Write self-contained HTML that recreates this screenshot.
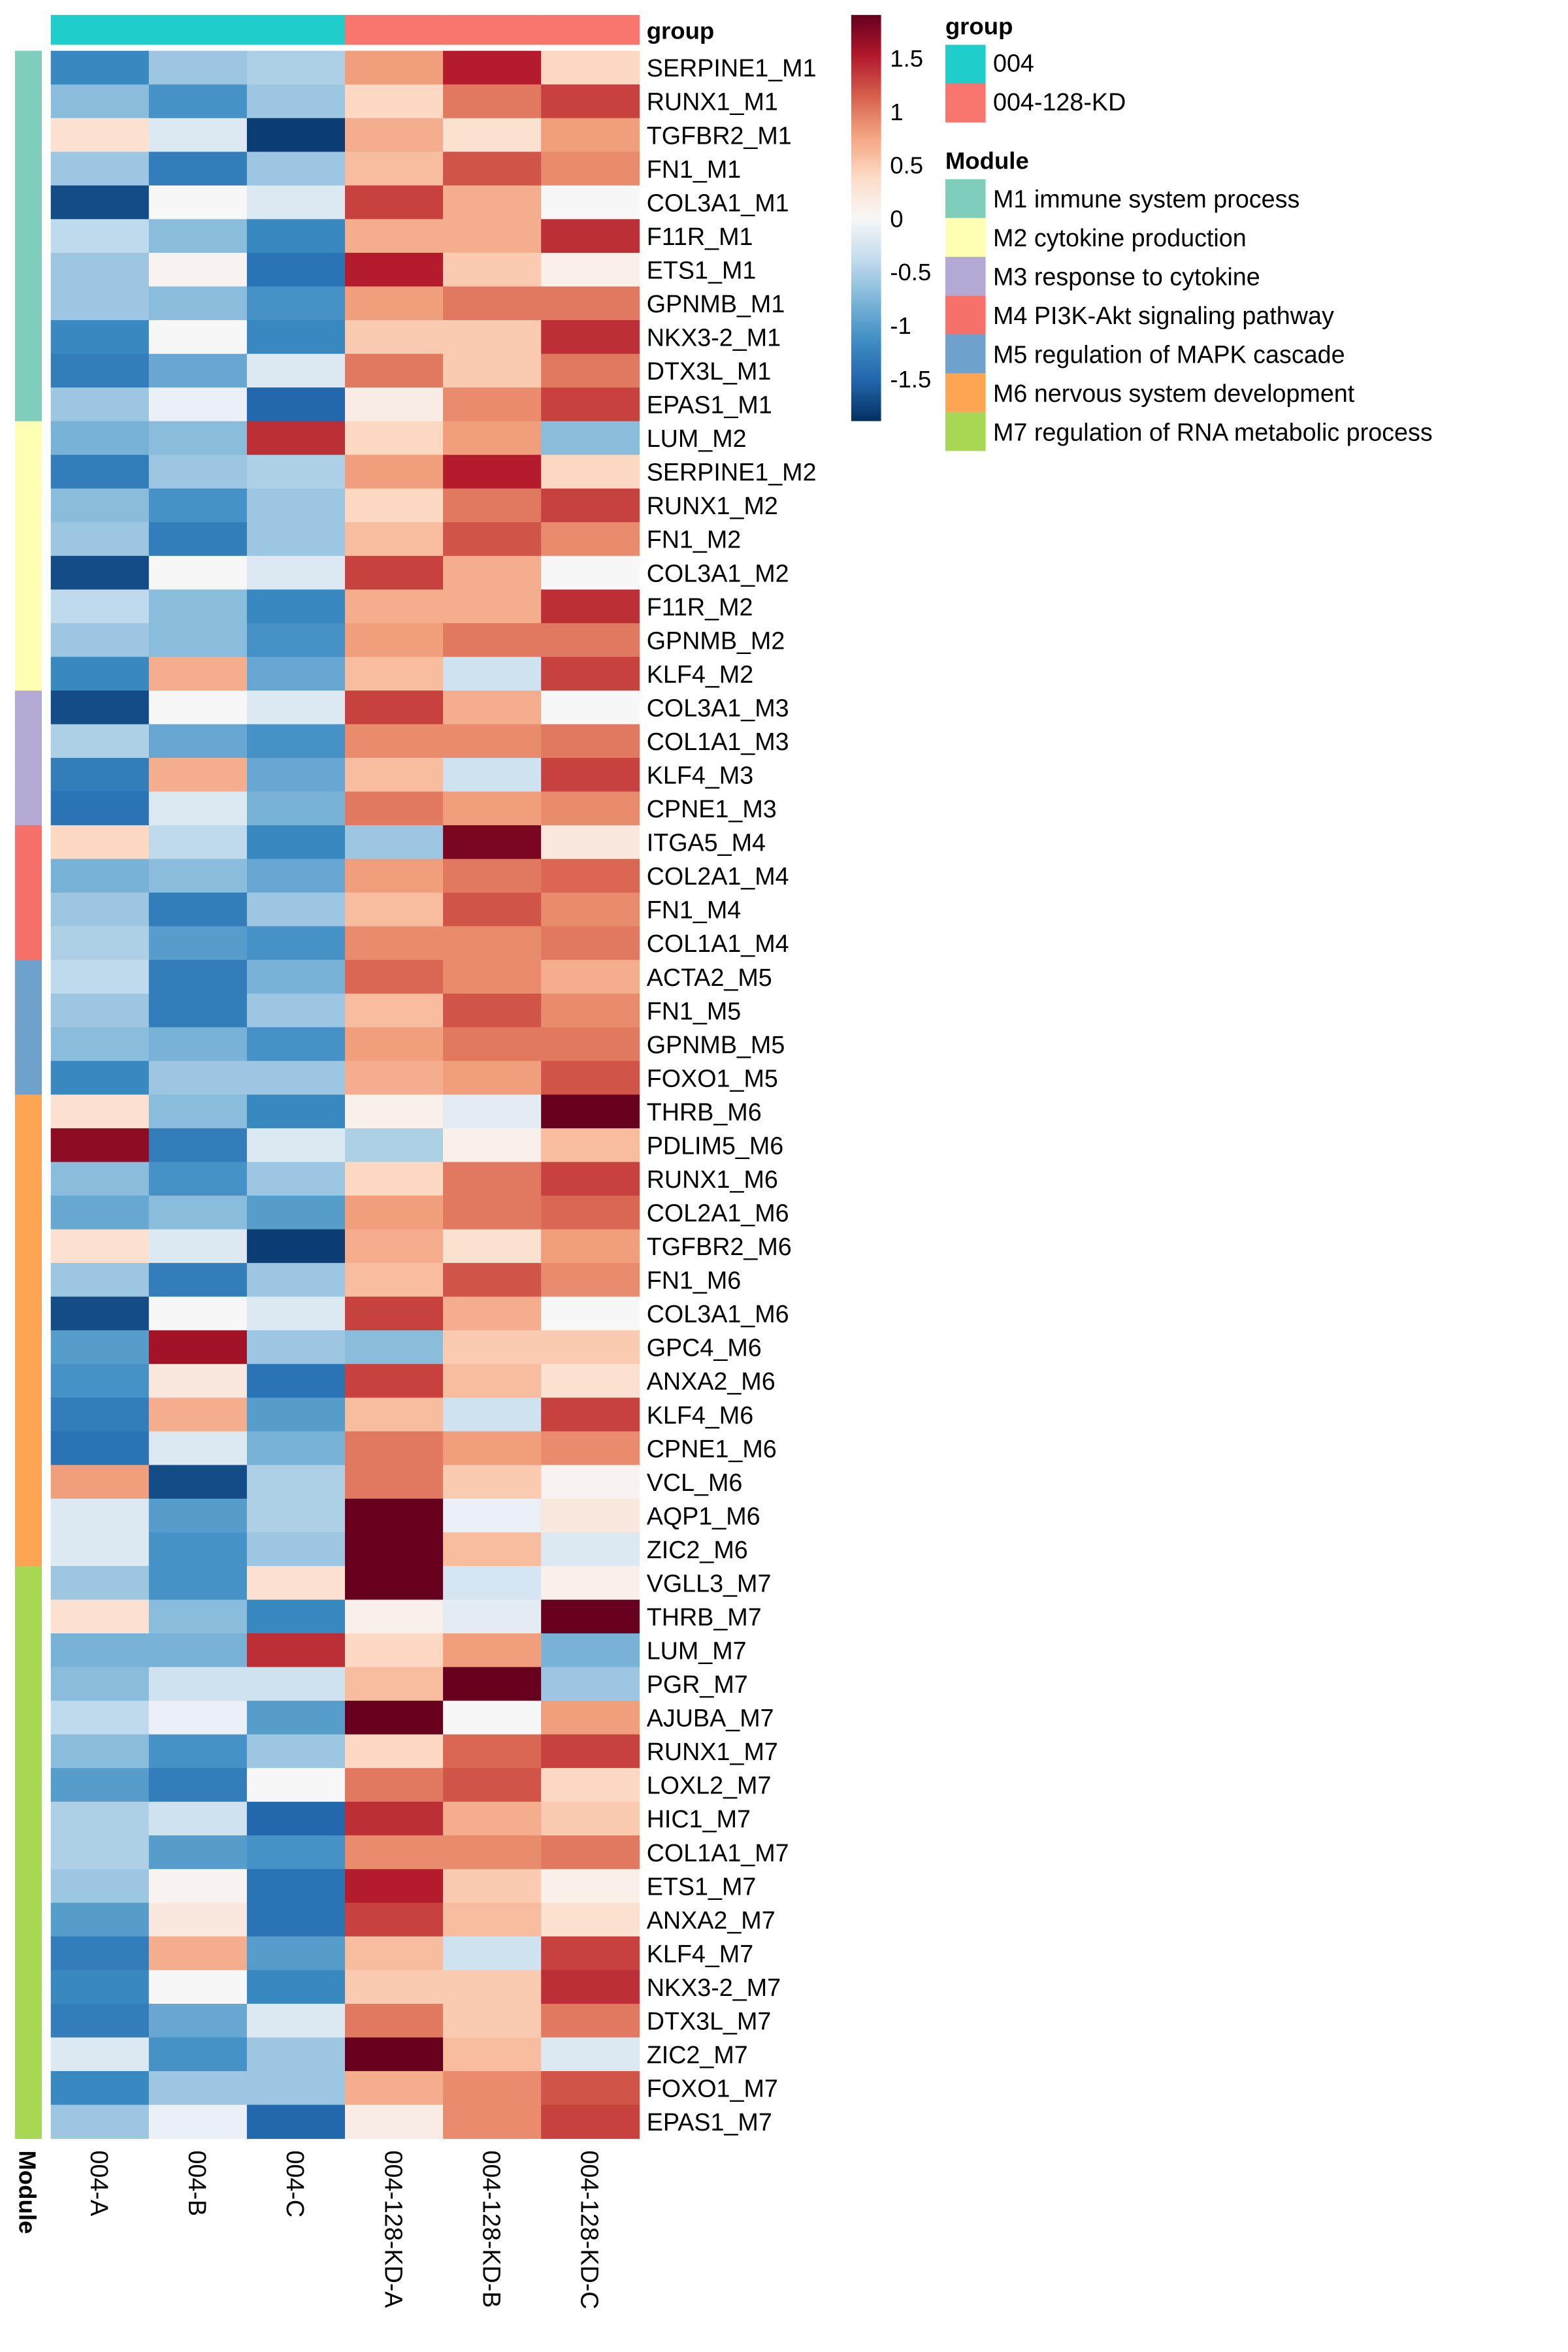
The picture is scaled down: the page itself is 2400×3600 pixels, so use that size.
<!DOCTYPE html>
<html><head><meta charset="utf-8"><style>
html,body{margin:0;padding:0;background:#fff;}
svg{display:block;font-family:"Liberation Sans",sans-serif;}
</style></head><body>
<svg id="chart" width="2400" height="3600" viewBox="0 0 1050 1575" xmlns="http://www.w3.org/2000/svg"></svg>
<script>
const rowLabels = ["SERPINE1_M1","RUNX1_M1","TGFBR2_M1","FN1_M1","COL3A1_M1","F11R_M1","ETS1_M1","GPNMB_M1","NKX3-2_M1","DTX3L_M1","EPAS1_M1","LUM_M2","SERPINE1_M2","RUNX1_M2","FN1_M2","COL3A1_M2","F11R_M2","GPNMB_M2","KLF4_M2","COL3A1_M3","COL1A1_M3","KLF4_M3","CPNE1_M3","ITGA5_M4","COL2A1_M4","FN1_M4","COL1A1_M4","ACTA2_M5","FN1_M5","GPNMB_M5","FOXO1_M5","THRB_M6","PDLIM5_M6","RUNX1_M6","COL2A1_M6","TGFBR2_M6","FN1_M6","COL3A1_M6","GPC4_M6","ANXA2_M6","KLF4_M6","CPNE1_M6","VCL_M6","AQP1_M6","ZIC2_M6","VGLL3_M7","THRB_M7","LUM_M7","PGR_M7","AJUBA_M7","RUNX1_M7","LOXL2_M7","HIC1_M7","COL1A1_M7","ETS1_M7","ANXA2_M7","KLF4_M7","NKX3-2_M7","DTX3L_M7","ZIC2_M7","FOXO1_M7","EPAS1_M7"];
const columns = ["004-A","004-B","004-C","004-128-KD-A","004-128-KD-B","004-128-KD-C"];
const columnGroups = ["004","004","004","004-128-KD","004-128-KD","004-128-KD"];
const values = [
[-1.2,-0.6,-0.5,0.8,1.5,0.4],[-0.7,-1.1,-0.6,0.4,1.0,1.3],[0.3,-0.2,-1.8,0.7,0.3,0.8],[-0.6,-1.3,-0.6,0.6,1.2,0.9],
[-1.7,0,-0.2,1.3,0.7,0],[-0.4,-0.7,-1.2,0.7,0.7,1.4],[-0.6,0.05,-1.4,1.5,0.5,0.1],[-0.6,-0.7,-1.1,0.8,1.0,1.0],
[-1.2,0,-1.2,0.5,0.5,1.4],[-1.3,-0.9,-0.2,1.0,0.5,1.0],[-0.6,-0.1,-1.5,0.15,0.9,1.3],[-0.8,-0.7,1.4,0.4,0.8,-0.7],
[-1.3,-0.6,-0.5,0.8,1.5,0.4],[-0.7,-1.1,-0.6,0.4,1.0,1.3],[-0.6,-1.3,-0.6,0.6,1.2,0.9],[-1.7,0,-0.2,1.3,0.7,0],
[-0.4,-0.7,-1.2,0.7,0.7,1.4],[-0.6,-0.7,-1.1,0.8,1.0,1.0],[-1.2,0.7,-0.9,0.6,-0.3,1.3],[-1.7,0,-0.2,1.3,0.7,0],
[-0.5,-0.9,-1.1,0.9,0.9,1.0],[-1.3,0.7,-0.9,0.6,-0.3,1.3],[-1.4,-0.2,-0.8,1.0,0.8,0.9],[0.4,-0.4,-1.2,-0.6,1.8,0.2],
[-0.8,-0.7,-0.9,0.8,1.0,1.1],[-0.6,-1.3,-0.6,0.6,1.2,0.9],[-0.5,-1.0,-1.1,0.9,0.9,1.0],[-0.4,-1.3,-0.8,1.1,0.9,0.7],
[-0.6,-1.3,-0.6,0.6,1.2,0.9],[-0.7,-0.8,-1.1,0.8,1.0,1.0],[-1.2,-0.6,-0.6,0.7,0.8,1.2],[0.3,-0.7,-1.2,0.1,-0.15,1.9],
[1.7,-1.3,-0.2,-0.5,0.1,0.6],[-0.7,-1.1,-0.6,0.4,1.0,1.3],[-0.9,-0.7,-1.0,0.8,1.0,1.1],[0.3,-0.2,-1.8,0.7,0.3,0.8],
[-0.6,-1.3,-0.6,0.6,1.2,0.9],[-1.7,0,-0.2,1.3,0.7,0],[-1.0,1.6,-0.6,-0.7,0.5,0.5],[-1.1,0.2,-1.4,1.3,0.6,0.3],
[-1.3,0.7,-1.0,0.6,-0.3,1.3],[-1.4,-0.2,-0.8,1.0,0.8,0.9],[0.8,-1.7,-0.5,1.0,0.5,0.05],[-0.2,-1.0,-0.5,2.0,-0.1,0.2],
[-0.2,-1.1,-0.6,1.9,0.6,-0.2],[-0.6,-1.1,0.3,1.9,-0.25,0.1],[0.3,-0.7,-1.2,0.1,-0.15,1.9],[-0.8,-0.8,1.4,0.4,0.8,-0.8],
[-0.7,-0.3,-0.3,0.6,2.0,-0.6],[-0.4,-0.1,-1.0,2.0,0,0.8],[-0.7,-1.1,-0.6,0.4,1.1,1.3],[-1.0,-1.3,0,1.0,1.2,0.4],
[-0.5,-0.3,-1.5,1.4,0.7,0.5],[-0.5,-1.0,-1.1,0.9,0.9,1.0],[-0.6,0.05,-1.4,1.5,0.5,0.1],[-1.0,0.2,-1.4,1.3,0.6,0.3],
[-1.3,0.7,-1.0,0.6,-0.3,1.3],[-1.2,0,-1.2,0.5,0.5,1.4],[-1.3,-0.9,-0.2,1.0,0.5,1.0],[-0.2,-1.1,-0.6,1.9,0.6,-0.2],
[-1.2,-0.6,-0.6,0.7,0.9,1.2],[-0.6,-0.1,-1.5,0.15,0.9,1.3]];
const moduleNames = ["M1","M2","M3","M4","M5","M6","M7"];
const moduleLabels = ["M1 immune system process","M2 cytokine production","M3 response to cytokine","M4 PI3K-Akt signaling pathway","M5 regulation of MAPK cascade","M6 nervous system development","M7 regulation of RNA metabolic process"];
const colorTicks = [1.5,1,0.5,0,-0.5,-1,-1.5];

const moduleColors = {M1:"#7fcdbb",M2:"#ffffb3",M3:"#b4a9d4",M4:"#f8706a",M5:"#6fa2cc",M6:"#fda553",M7:"#a6d854"};
const groupColors = {"004":"#1fcecb","004-128-KD":"#f8766d"};
const stops = ["#053061","#2166ac","#3f8ec4","#7fb6d8","#c4dcee","#f7f7f7","#fddbc7","#f4a582","#d6604d","#b2182b","#67001f"];
const vmin=-1.9, vmax=1.9;
function hex(c){return [1,3,5].map(i=>parseInt(c.substr(i,2),16));}
function color(v){
  let t=(Math.max(vmin,Math.min(vmax,v))-vmin)/(vmax-vmin)*(stops.length-1);
  let i=Math.min(Math.floor(t),stops.length-2), f=t-i;
  const a=hex(stops[i]), b=hex(stops[i+1]);
  return "rgb("+a.map((x,k)=>Math.round(x+(b[k]-x)*f)).join(",")+")";
}
const svg=document.getElementById("chart");
const NS="http://www.w3.org/2000/svg";
function el(tag,attrs,parent){const e=document.createElementNS(NS,tag);for(const k in attrs)e.setAttribute(k,attrs[k]);(parent||svg).appendChild(e);return e;}
const X0=34, X1=428, Y0=34, Y1=1432;
const cw=(X1-X0)/columns.length, rh=(Y1-Y0)/rowLabels.length;
const xPos=j=>X0+j*cw, yPos=i=>Y0+i*rh;

columns.forEach((c,j)=>{
  const r=el("rect",{x:xPos(j),y:10,width:cw+0.3,height:20,fill:groupColors[columnGroups[j]]});
  
  
});
let t=el("text",{x:433,y:26,"font-size":16,"font-weight":"bold"});t.textContent="group";



values.forEach((row,i)=>row.forEach((v,j)=>{
  const r=el("rect",{x:xPos(j),y:yPos(i),width:cw+0.3,height:rh+0.3,fill:color(v)});
  
  
}));
rowLabels.forEach((lab,i)=>{
  const m=lab.split("_").pop();
  const r=el("rect",{x:10,y:yPos(i),width:18,height:rh+0.3,fill:moduleColors[m]});
  
  
  const tx=el("text",{x:433,y:yPos(i)+rh/2+6,"font-size":16.5});tx.textContent=lab;
  
  
});
columns.forEach((c,j)=>{
  const cx=xPos(j)+cw/2-6;
  const tx=el("text",{x:0,y:0,"font-size":16.5,transform:"translate("+cx+",1440) rotate(90)"});tx.textContent=c;
  
  
});
t=el("text",{x:0,y:0,"font-size":16,"font-weight":"bold",transform:"translate(13,1440) rotate(90)"});t.textContent="Module";



const defs=el("defs",{});
const g=el("linearGradient",{id:"cb",x1:0,y1:1,x2:0,y2:0},defs);
stops.forEach((s,k)=>el("stop",{offset:k/(stops.length-1),"stop-color":s},g));
const CB0=10, CB1=282;
const cbY=v=>CB1-(v-vmin)/(vmax-vmin)*(CB1-CB0);
const cb=el("rect",{x:570,y:CB0,width:20,height:CB1-CB0,fill:"url(#cb)"});


colorTicks.forEach(v=>{
  const tx=el("text",{x:596,y:cbY(v)+6,"font-size":16});tx.textContent=String(v);
  
  
});

t=el("text",{x:633,y:23,"font-size":16,"font-weight":"bold"});t.textContent="group";


Object.keys(groupColors).forEach((k,i)=>{
  const r=el("rect",{x:633,y:30+i*26,width:27,height:26,fill:groupColors[k]});
  
  
  const tx=el("text",{x:665,y:48+i*26,"font-size":16.5});tx.textContent=k;
  
  
});
t=el("text",{x:633,y:113,"font-size":16,"font-weight":"bold"});t.textContent="Module";


moduleNames.forEach((m,i)=>{
  const r=el("rect",{x:633,y:120+i*26,width:27,height:26,fill:moduleColors[m]});
  
  
  const tx=el("text",{x:665,y:139+i*26,"font-size":16.5});tx.textContent=moduleLabels[i];
  
  
});
</script>
</body></html>
